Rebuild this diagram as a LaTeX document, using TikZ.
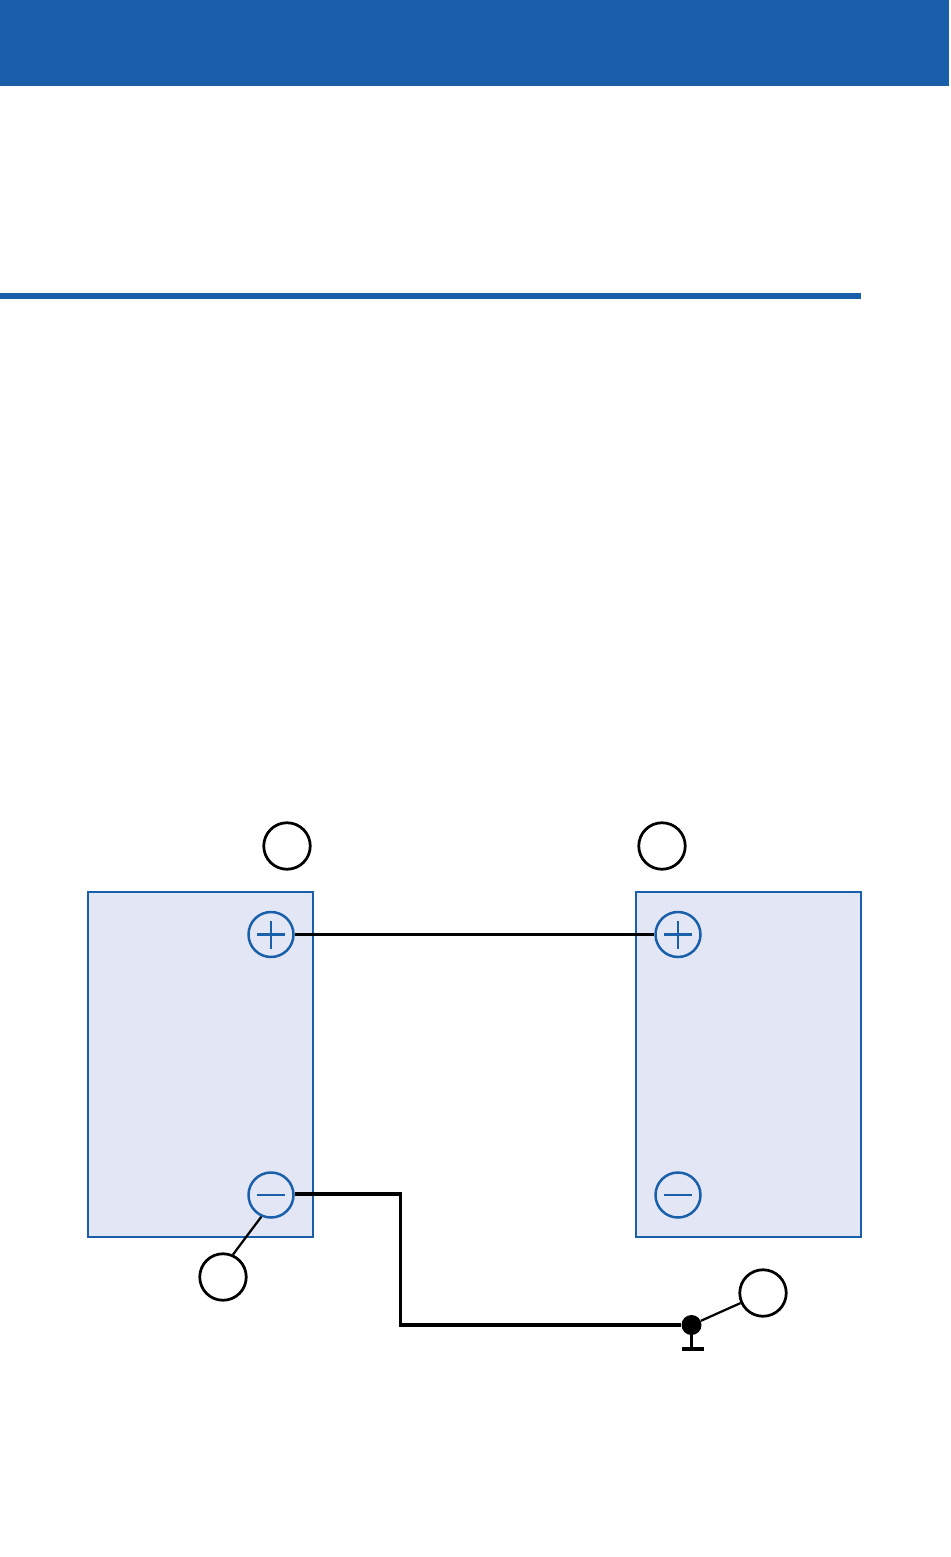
\documentclass[tikz,border=0pt]{standalone}
\usepackage{tikz}

\definecolor{bandblue}{RGB}{26,95,170}
\definecolor{boxfill}{RGB}{226,230,245}

\tikzset{
    battery/.style={draw=bandblue,fill=boxfill,line width=.05cm,inner sep=0pt,minimum width=4.5cm,minimum height=6.9cm},
    terminal/.style={circle,draw=bandblue,fill=boxfill,line width=.05cm,inner sep=0pt,minimum size=.9cm},
    callout/.style={circle,draw=black,fill=white,line width=.055cm,inner sep=0pt,minimum size=.93cm},
    wire/.style={draw=black,line width=.066cm},
    leader/.style={draw=black,line width=.045cm},
    sign/.style={draw=bandblue,line width=.045cm}
}

\begin{document}
\begin{tikzpicture}[x=.02cm,y=-.02cm]
        \useasboundingbox (0,0) rectangle (950,1557);

        \fill[bandblue] (0,0) rectangle (949,86);
        \fill[bandblue] (0,293) rectangle (861,299);

        \node[battery] (batl) at (200.5,1064.5) {};
        \node[battery] (batr) at (748.5,1064.5) {};

        \foreach \name/\x/\y in {lplus/271/934.5,lminus/271/1195,rplus/678/934.5,rminus/678/1195}
        {
            \node[terminal] (\name) at (\x,\y) {};
        }

        % plus und minus
        \foreach \name in {lplus,lminus,rplus,rminus}
        {
            \draw[sign] ([xshift=-.28cm]\name.center)--([xshift=.28cm]\name.center);
        }
        \foreach \name in {lplus,rplus}
        {
            \draw[sign] ([yshift=-.28cm]\name.center)--([yshift=.28cm]\name.center);
        }

        \node[callout] (numa) at (287,846) {};
        \node[callout] (numb) at (662,846) {};
        \node[callout] (numc) at (223,1277) {};
        \node[callout] (numd) at (763,1293) {};

        \node[circle,fill=black,inner sep=0pt,minimum size=.4cm] (gnd) at (691.5,1325) {};
        \node[fill=black,inner sep=0pt,minimum width=.44cm,minimum height=.07cm] (gndbar) at (693,1349) {};
        \coordinate (elbow) at (400.5,1325);

        \draw[wire] (lplus)--(rplus);
        \draw[wire] ([yshift=.02cm]lminus.east)-|(elbow)--(gnd);
        \draw[leader] (gnd)--(gnd|-gndbar.north);
        \draw[leader] (lminus.-114)--(numc.66);
        \draw[leader] (gnd)--(numd);
\end{tikzpicture}
\end{document}
